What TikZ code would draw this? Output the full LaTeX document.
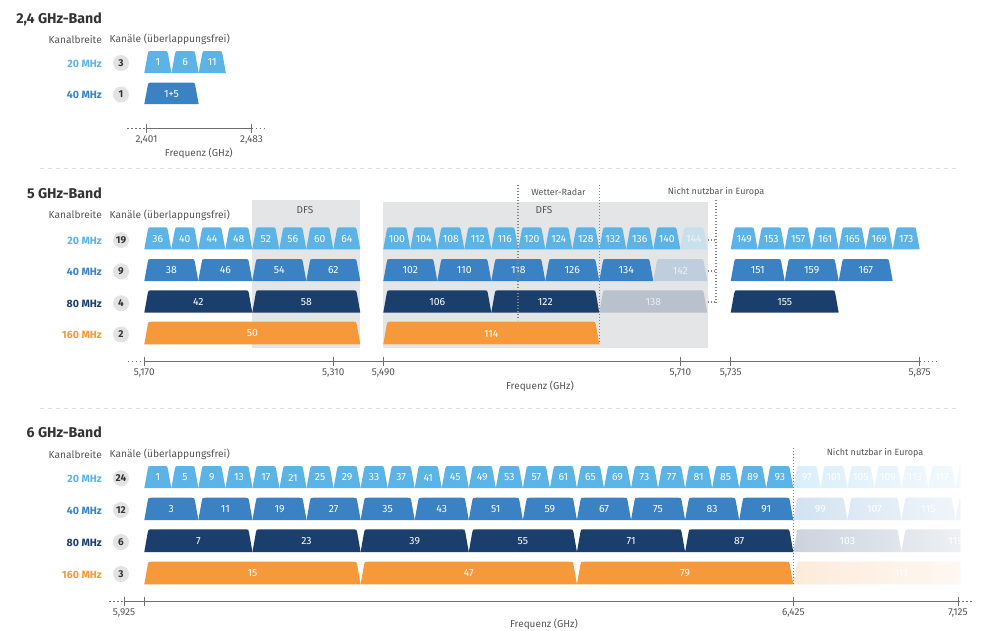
\documentclass[tikz,border=0pt]{standalone}
\usepackage{fontspec}
\setmainfont{Fira Sans}
\usetikzlibrary{fadings}
\definecolor{cA}{HTML}{5CB4E6}
\definecolor{cB}{HTML}{3A82C4}
\definecolor{cC}{HTML}{1A3F6C}
\definecolor{cD}{HTML}{F5993A}
\definecolor{dfs}{HTML}{E4E5E6}
\definecolor{titlec}{HTML}{333333}
\definecolor{labc}{HTML}{555555}
\definecolor{axisc}{HTML}{6E6E6E}
\definecolor{circc}{HTML}{E3E3E3}
\definecolor{sepc}{HTML}{DDDDDD}
\definecolor{fA}{HTML}{C9DFEC}
\definecolor{fB}{HTML}{BECEDD}
\definecolor{fC}{HTML}{B9C1CC}
\tikzfading[name=fadeout, left color=transparent!100, right color=transparent!0]
\newcommand{\chan}[7]{%
  \fill[#5] (#1,#4) -- ({#1+3.45},{#3+3}) .. controls ({#1+4},#3) .. ({#1+7},#3) -- ({#2-7},#3) .. controls ({#2-4},#3) .. ({#2-3.45},{#3+3}) -- (#2,#4) -- cycle;
  \node[chtext] (#7) at ({(#1+#2)/2},{(#3+#4)/2+0.5}) {#6};
}
\tikzset{
  chtext/.style={text=white, font=\fontsize{10.4}{11}\selectfont, inner sep=0pt},
  rowlab/.style={anchor=east, inner sep=0pt, font=\bfseries\fontsize{10.6}{12}\selectfont},
  num/.style={circle, fill=circc, minimum size=16pt, inner sep=0pt, font=\bfseries\fontsize{10}{10}\selectfont, text=titlec},
  titlenode/.style={anchor=east, inner sep=0pt, font=\bfseries\fontsize{14.2}{16}\selectfont, text=titlec},
  hdr/.style={inner sep=0pt, font=\fontsize{10.2}{12}\selectfont, text=labc},
  axlab/.style={inner sep=0pt, font=\fontsize{10}{12}\selectfont, text=labc},
  notelab/.style={inner sep=0pt, font=\fontsize{9}{10}\selectfont, text=labc},
  axisline/.style={draw=axisc, line width=1pt},
  dotax/.style={draw=axisc, line width=1pt, dash pattern=on 1.5pt off 2.5pt},
  vdot/.style={draw=axisc!85, line width=1.3pt, dash pattern=on 1.3pt off 1.7pt},
  sepline/.style={draw=sepc, line width=1pt, dash pattern=on 4pt off 4pt}
}
\begin{document}
\begin{tikzpicture}[x=1pt,y=-1pt]
\useasboundingbox[fill=white] (0,0) rectangle (998,630);

% ================= 2,4 GHz =================
\node[titlenode] (t24) at (102,19) {2,4 GHz-Band};
\node[hdr, anchor=east] (kb24) at (102,39.5) {Kanalbreite};
\node[hdr, anchor=west] (ka24) at (109.5,39.5) {Kanäle (überlappungsfrei)};
\node[rowlab, text=cA] (r24a) at (102,63.5) {20 MHz};
\node[num] (n24a) at (121,63) {3};
\node[rowlab, text=cB] (r24b) at (102,95) {40 MHz};
\node[num] (n24b) at (121,94.5) {1};
\chan{144.3}{171.5}{51}{73}{cA}{1}{c24a1}
\chan{171.5}{198.7}{51}{73}{cA}{6}{c24a6}
\chan{198.7}{225.9}{51}{73}{cA}{11}{c24a11}
\chan{144.3}{198.7}{82.5}{104}{cB}{1+5}{c24b1}
\coordinate (a24l) at (127,128);
\coordinate (a24s) at (146.5,128);
\coordinate (a24e) at (251.5,128);
\coordinate (a24r) at (266,128);
\draw[dotax] (a24l) -- (a24s);
\draw[axisline] (a24s) -- (a24e);
\draw[dotax] (a24e) -- (a24r);
\draw[axisline] (146.5,123.5) -- (146.5,132.5);
\draw[axisline] (251.5,123.5) -- (251.5,132.5);
\node[axlab] (l2401) at (146.5,139.5) {2,401};
\node[axlab] (l2483) at (251.5,139.5) {2,483};
\node[axlab] (fq24) at (198.8,153.3) {Frequenz (GHz)};

\draw[sepline] (40,168.3) -- (958,168.3);

% ================= 5 GHz =================
\fill[dfs] (252,200) rectangle (360.3,348);
\fill[dfs] (383.3,202) rectangle (708,348);
\node[notelab, font=\fontsize{10}{11}\selectfont] (dfs1) at (305,210.5) {DFS};
\node[notelab, font=\fontsize{10}{11}\selectfont] (dfs2) at (544,210.5) {DFS};

\node[titlenode] (t5) at (102,193.3) {5 GHz-Band};
\node[hdr, anchor=east] (kb5) at (102,215) {Kanalbreite};
\node[hdr, anchor=west] (ka5) at (109.5,215) {Kanäle (überlappungsfrei)};
\node[rowlab, text=cA] (r5a) at (102,240.5) {20 MHz};
\node[rowlab, text=cB] (r5b) at (102,271.5) {40 MHz};
\node[rowlab, text=cC] (r5c) at (102,303.5) {80 MHz};
\node[rowlab, text=cD] (r5d) at (102,335) {160 MHz};
\node[num] (n5a) at (121,240) {19};
\node[num] (n5b) at (121,271.3) {9};
\node[num] (n5c) at (121,303.3) {4};
\node[num] (n5d) at (121,334.5) {2};

% 20 MHz
\foreach \n [count=\i from 0] in {36,40,...,64} {
  \pgfmathsetmacro\xa{144.3+27*\i}\pgfmathsetmacro\xb{\xa+27}
  \chan{\xa}{\xb}{227.3}{249.3}{cA}{\n}{f5a\n}
}
\foreach \n [count=\i from 0] in {100,104,...,140} {
  \pgfmathsetmacro\xa{383.3+27*\i}\pgfmathsetmacro\xb{\xa+27}
  \chan{\xa}{\xb}{227.3}{249.3}{cA}{\n}{f5a\n}
}
\chan{680.3}{707.3}{227.3}{249.3}{fA}{\textcolor{white!70!fA}{144}}{f5a144}
\foreach \n [count=\i from 0] in {149,153,...,173} {
  \pgfmathsetmacro\xa{730.7+27*\i}\pgfmathsetmacro\xb{\xa+27}
  \chan{\xa}{\xb}{227.3}{249.3}{cA}{\n}{f5a\n}
}
% 40 MHz
\foreach \n [count=\i from 0] in {38,46,54,62} {
  \pgfmathsetmacro\xa{144.3+54*\i}\pgfmathsetmacro\xb{\xa+54}
  \chan{\xa}{\xb}{259}{281}{cB}{\n}{f5b\n}
}
\foreach \n [count=\i from 0] in {102,110,...,134} {
  \pgfmathsetmacro\xa{383.3+54*\i}\pgfmathsetmacro\xb{\xa+54}
  \chan{\xa}{\xb}{259}{281}{cB}{\n}{f5b\n}
}
\chan{653.3}{707.3}{259}{281}{fB}{\textcolor{white!70!fB}{142}}{f5b142}
\foreach \n [count=\i from 0] in {151,159,167} {
  \pgfmathsetmacro\xa{730.7+54*\i}\pgfmathsetmacro\xb{\xa+54}
  \chan{\xa}{\xb}{259}{281}{cB}{\n}{f5b\n}
}
% 80 MHz
\chan{144.3}{252.3}{290.3}{312.7}{cC}{42}{f5c42}
\chan{252.3}{360.3}{290.3}{312.7}{cC}{58}{f5c58}
\chan{383.3}{491.3}{290.3}{312.7}{cC}{106}{f5c106}
\chan{491.3}{599.3}{290.3}{312.7}{cC}{122}{f5c122}
\chan{599.3}{707.3}{290.3}{312.7}{fC}{\textcolor{white!70!fC}{138}}{f5c138}
\chan{730.7}{838.7}{290.3}{312.7}{cC}{155}{f5c155}
% 160 MHz
\chan{144.3}{360.3}{321.7}{344.3}{cD}{50}{f5d50}
\chan{383.3}{599.3}{321.7}{344.3}{cD}{114}{f5d114}

% Wetter-Radar / Nicht nutzbar markers
\coordinate (wr1t) at (518,185);
\coordinate (wr1b) at (518,320);
\coordinate (wr2t) at (599.3,185);
\coordinate (wr2b) at (599.3,344);
\draw[vdot] (wr1t) -- (wr1b);
\draw[vdot] (wr2t) -- (wr2b);
\node[notelab] (wrl) at (558.5,192) {Wetter-Radar};
\coordinate (nn5t) at (716,200);
\coordinate (nn5b) at (716,304);
\draw[vdot] (nn5t) -- (nn5b);
\draw[vdot] (708,240) -- (716,240);
\draw[vdot] (708,271) -- (716,271);
\draw[vdot] (708,302) -- (716,302);
\node[notelab] (nnl5) at (716,192) {Nicht nutzbar in Europa};

% axis 5 GHz
\coordinate (a5l) at (127.7,361);
\coordinate (a5s) at (144.3,361);
\coordinate (a5e) at (919.7,361);
\coordinate (a5r) at (936,361);
\draw[dotax] (a5l) -- (a5s);
\draw[axisline] (a5s) -- (a5e);
\draw[dotax] (a5e) -- (a5r);
\foreach \x/\t in {144.3/{5,170},333.3/{5,310},383.3/{5,490},680.3/{5,710},730.7/{5,735},919.7/{5,875}} {
  \draw[axisline] (\x,356.5) -- (\x,365.5);
  \node[axlab] at (\x,373) {\t};
}
\node[axlab] (fq5) at (540,386) {Frequenz (GHz)};

\draw[sepline] (40,408.3) -- (958,408.3);

% ================= 6 GHz =================
\node[titlenode] (t6) at (102,432.3) {6 GHz-Band};
\node[hdr, anchor=east] (kb6) at (102,454.3) {Kanalbreite};
\node[hdr, anchor=west] (ka6) at (109.5,454.3) {Kanäle (überlappungsfrei)};
\node[rowlab, text=cA] (r6a) at (102,479.3) {20 MHz};
\node[rowlab, text=cB] (r6b) at (102,510.7) {40 MHz};
\node[rowlab, text=cC] (r6c) at (102,542.7) {80 MHz};
\node[rowlab, text=cD] (r6d) at (102,575) {160 MHz};
\node[num] (n6a) at (121,478.3) {24};
\node[num] (n6b) at (121,510) {12};
\node[num] (n6c) at (121,542) {6};
\node[num] (n6d) at (121,574) {3};

\foreach \n [count=\i from 0] in {1,5,...,93} {
  \pgfmathsetmacro\xa{144.3+27.04*\i}\pgfmathsetmacro\xb{\xa+27.04}
  \chan{\xa}{\xb}{466}{488}{cA}{\n}{f6a\n}
}
\foreach \n [count=\i from 0] in {3,11,...,91} {
  \pgfmathsetmacro\xa{144.3+54.08*\i}\pgfmathsetmacro\xb{\xa+54.08}
  \chan{\xa}{\xb}{497.7}{520}{cB}{\n}{f6b\n}
}
\foreach \n [count=\i from 0] in {7,23,...,87} {
  \pgfmathsetmacro\xa{144.3+108.16*\i}\pgfmathsetmacro\xb{\xa+108.16}
  \chan{\xa}{\xb}{529.3}{552}{cC}{\n}{f6c\n}
}
\foreach \n [count=\i from 0] in {15,47,79} {
  \pgfmathsetmacro\xa{144.3+216.32*\i}\pgfmathsetmacro\xb{\xa+216.32}
  \chan{\xa}{\xb}{561.7}{584.3}{cD}{\n}{f6d\n}
}
% faded channels (not usable in Europe)
\begin{scope}
\clip (793.3,440) rectangle (960,590);
\foreach \n [count=\i from 0] in {97,101,...,121} {
  \pgfmathsetmacro\xa{793.3+27.04*\i}\pgfmathsetmacro\xb{\xa+27.04}
  \chan{\xa}{\xb}{466}{488}{cA!30}{\n}{g6a\n}
}
\foreach \n [count=\i from 0] in {99,107,115,123} {
  \pgfmathsetmacro\xa{793.3+54.08*\i}\pgfmathsetmacro\xb{\xa+54.08}
  \chan{\xa}{\xb}{497.7}{520}{cB!30}{\n}{g6b\n}
}
\foreach \n [count=\i from 0] in {103,119} {
  \pgfmathsetmacro\xa{793.3+108.16*\i}\pgfmathsetmacro\xb{\xa+108.16}
  \chan{\xa}{\xb}{529.3}{552}{cC!30}{\n}{g6c\n}
}
\chan{793.3}{1009.6}{561.7}{584.3}{cD!25}{111}{g6d111}
\fill[white, path fading=fadeout] (713,455) rectangle (1042,590);
\end{scope}
\coordinate (nn6t) at (793.3,448);
\coordinate (nn6b) at (793.3,584);
\draw[vdot] (nn6t) -- (nn6b);
\node[notelab] (nnl6) at (875,453) {Nicht nutzbar in Europa};

% axis 6 GHz
\coordinate (a6l) at (109,601);
\coordinate (a6s) at (124,601);
\coordinate (a6e) at (958,601);
\coordinate (a6r) at (974,601);
\draw[dotax] (a6l) -- (a6s);
\draw[axisline] (a6s) -- (a6e);
\draw[dotax] (a6e) -- (a6r);
\foreach \x in {124,144.3,793.3,958} {
  \draw[axisline] (\x,596.5) -- (\x,605.5);
}
\node[axlab] (l5925) at (124,613) {5,925};
\node[axlab] (l6425) at (793.3,613) {6,425};
\node[axlab] (l7125) at (958,613) {7,125};
\node[axlab] (fq6) at (544,624) {Frequenz (GHz)};
\end{tikzpicture}
\end{document}
